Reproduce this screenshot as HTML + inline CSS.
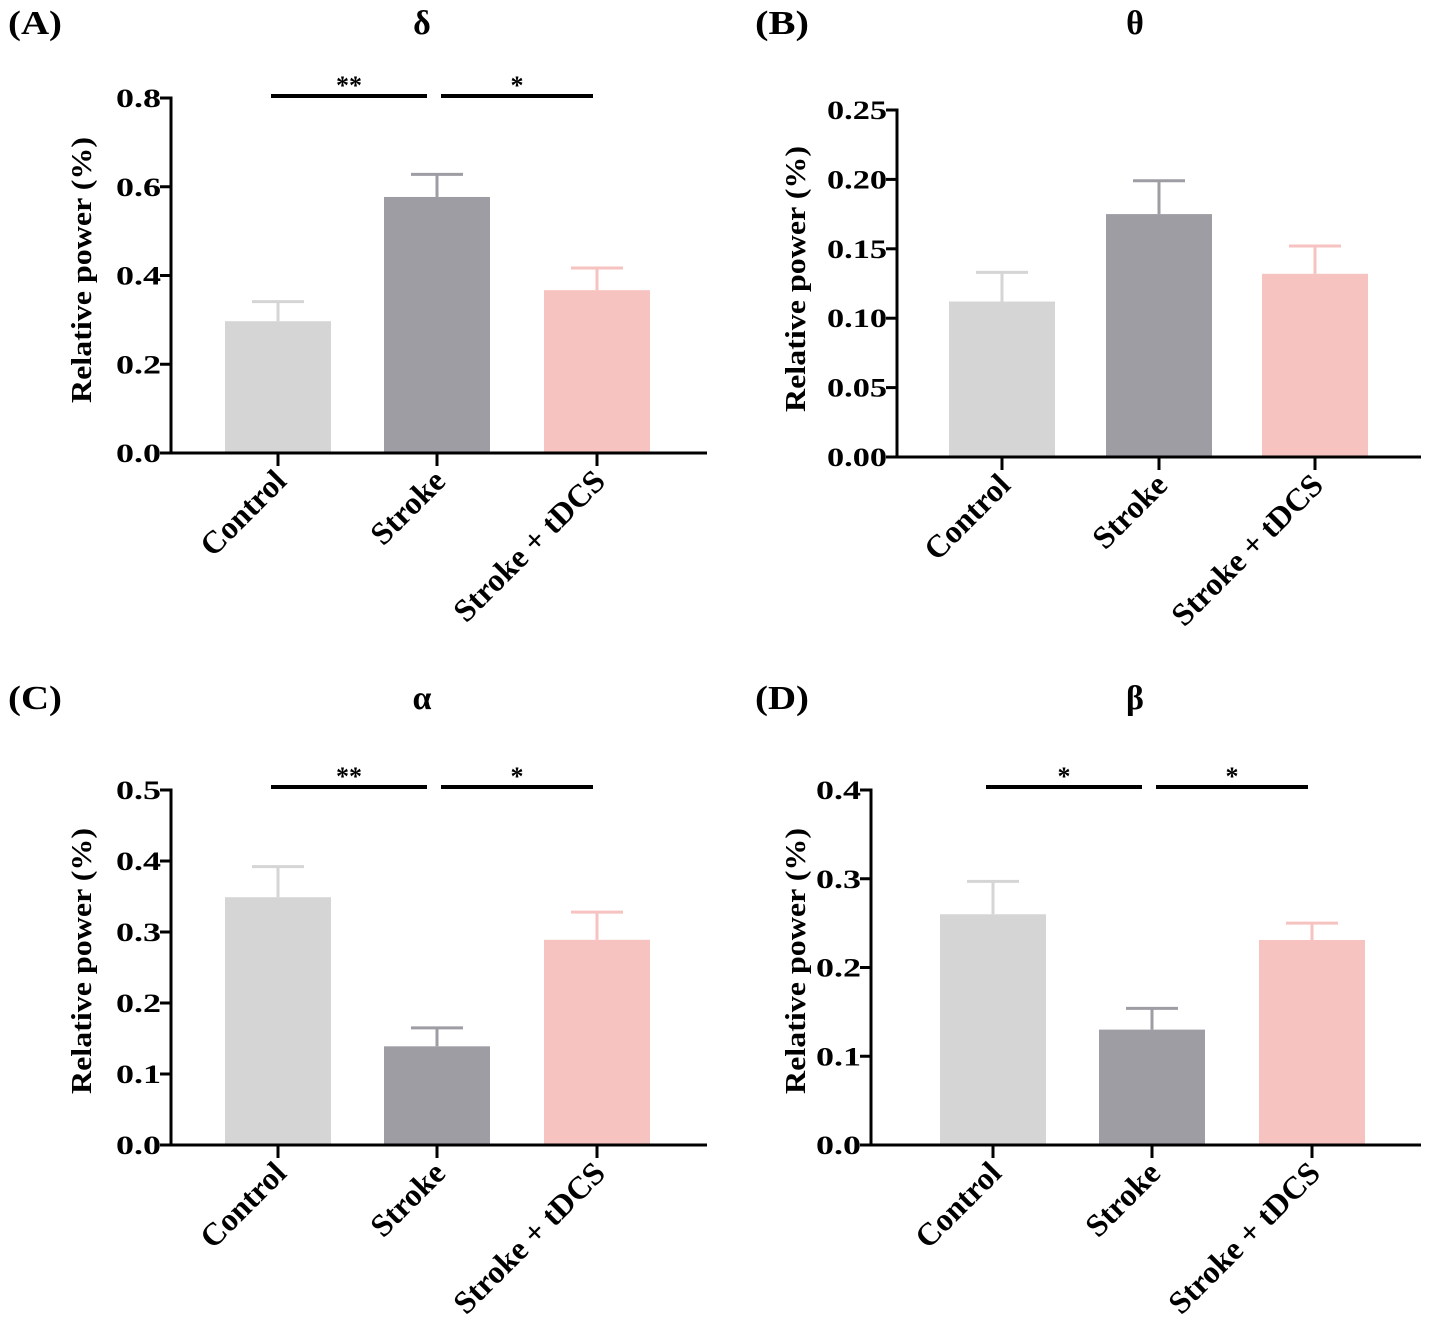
<!DOCTYPE html>
<html><head><meta charset="utf-8"><style>
html,body{margin:0;padding:0;background:#fff}
svg{display:block;font-family:"Liberation Serif",serif;font-weight:bold}
</style></head><body>
<svg id="fig" width="1429" height="1341" viewBox="0 0 1429 1341" xmlns="http://www.w3.org/2000/svg"></svg>
<script>
const categories = ["Control","Stroke","Stroke + tDCS"];
const colors = ["#d5d5d5","#9e9da4","#f6c3c0"];
const deltaMeans = [0.297,0.577,0.367];
const deltaErrs = [0.044,0.051,0.050];
const thetaMeans = [0.112,0.175,0.132];
const thetaErrs = [0.021,0.024,0.020];
const alphaMeans = [0.349,0.139,0.289];
const alphaErrs = [0.043,0.026,0.039];
const betaMeans = [0.260,0.130,0.231];
const betaErrs = [0.037,0.024,0.019];
const deltaTicks = ["0.0","0.2","0.4","0.6","0.8"];
const thetaTicks = ["0.00","0.05","0.10","0.15","0.20","0.25"];
const alphaTicks = ["0.0","0.1","0.2","0.3","0.4","0.5"];
const betaTicks = ["0.0","0.1","0.2","0.3","0.4"];
const deltaSig = ["**","*"];
const alphaSig = ["**","*"];
const betaSig = ["*","*"];

const NS="http://www.w3.org/2000/svg";
const svg=document.getElementById('fig');
function mk(tag,attrs,parent,text){const e=document.createElementNS(NS,tag);for(const k in attrs)e.setAttribute(k,attrs[k]);if(text!==undefined)e.textContent=text;(parent||svg).appendChild(e);return e;}

const panels=[
 {id:"a",label:"(A)",title:"δ",means:deltaMeans,errs:deltaErrs,ticks:deltaTicks,sig:deltaSig,ax:171,x1:707,top:98,bot:453,centers:[278,437,597],lx:8,ly:22,tx:422,sigY:96,ytx:83,yty:270},
 {id:"b",label:"(B)",title:"θ",means:thetaMeans,errs:thetaErrs,ticks:thetaTicks,sig:null,ax:897,x1:1421,top:110,bot:457,centers:[1002,1159,1315],lx:755,ly:22,tx:1135,sigY:0,ytx:797,yty:279},
 {id:"c",label:"(C)",title:"α",means:alphaMeans,errs:alphaErrs,ticks:alphaTicks,sig:alphaSig,ax:171,x1:707,top:790,bot:1145,centers:[278,437,597],lx:8,ly:697,tx:422,sigY:787,ytx:83,yty:961},
 {id:"d",label:"(D)",title:"β",means:betaMeans,errs:betaErrs,ticks:betaTicks,sig:betaSig,ax:871,x1:1421,top:790,bot:1145,centers:[993,1152,1312],lx:755,ly:697,tx:1135,sigY:787,ytx:797,yty:961}
];

panels.forEach(p=>{
 const g=mk('g',{});
 
 
 const maxV=parseFloat(p.ticks[p.ticks.length-1]);
 const y=v=>p.bot-(v/maxV)*(p.bot-p.top);
 const bw=106;
 const pl=mk('text',{x:p.lx,y:p.ly+12,'font-size':34,textLength:54,lengthAdjust:'spacingAndGlyphs'},g,p.label);
 
 
 const t=mk('text',{x:p.tx,y:p.ly+12,'font-size':34,'text-anchor':'middle'},g,p.title);
 
 
 p.means.forEach((m,i)=>{
  const c=p.centers[i];
  const eb=mk('g',{},g);
  
  
  mk('line',{x1:c,x2:c,y1:y(m),y2:y(m+p.errs[i]),stroke:colors[i],'stroke-width':3},eb);
  mk('line',{x1:c-26,x2:c+26,y1:y(m+p.errs[i]),y2:y(m+p.errs[i]),stroke:colors[i],'stroke-width':3},eb);
  const r=mk('rect',{x:c-bw/2,y:y(m),width:bw,height:p.bot-y(m),fill:colors[i]},g);
  
  
  const lab=mk('text',{transform:`translate(${c+10},${p.bot+30}) rotate(-45)`,'font-size':32,'text-anchor':'end'},g,categories[i]);
  
  
  mk('line',{x1:c,x2:c,y1:p.bot,y2:p.bot+13,stroke:'#000','stroke-width':3},g);
 });
 const ya=mk('line',{x1:p.ax,x2:p.ax,y1:p.top-1.5,y2:p.bot+1.5,stroke:'#000','stroke-width':3},g);
 
 
 const xa=mk('line',{x1:p.ax,x2:p.x1,y1:p.bot,y2:p.bot,stroke:'#000','stroke-width':3},g);
 
 
 p.ticks.forEach(tk=>{
  const yy=y(parseFloat(tk));
  mk('line',{x1:p.ax-11,x2:p.ax,y1:yy,y2:yy,stroke:'#000','stroke-width':3},g);
  const tl=mk('text',{x:p.ax-10,y:yy+9,'font-size':26,'text-anchor':'end',textLength:tk.length*15,lengthAdjust:'spacingAndGlyphs'},g,tk);
  
  
 });
 const yt=mk('text',{transform:`translate(${p.ytx+8},${p.yty}) rotate(-90)`,'font-size':28,'text-anchor':'middle',textLength:266,lengthAdjust:'spacingAndGlyphs'},g,"Relative power (%)");
 
 
 if(p.sig){
  [[0,1],[1,2]].forEach((pair,k)=>{
   const xa0=p.centers[pair[0]]-7+(k?11:0), xa1=p.centers[pair[1]]-10+(k?6:0);
   const s=mk('line',{x1:xa0,x2:xa1,y1:p.sigY,y2:p.sigY,stroke:'#000','stroke-width':4},g);
   
   
   const st=mk('text',{x:(xa0+xa1)/2,y:p.sigY-2,'font-size':26,'text-anchor':'middle'},g,p.sig[k]);
   
   
  });
 }
});
</script>
</body></html>
